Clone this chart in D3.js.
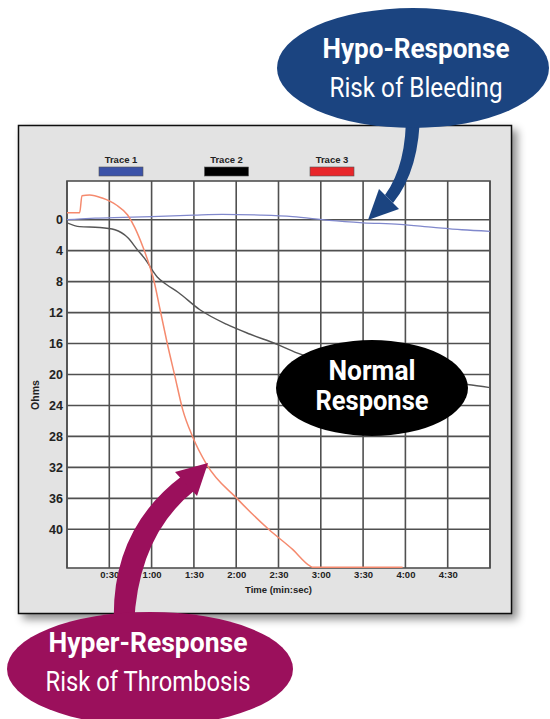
<!DOCTYPE html>
<html>
<head>
<meta charset="utf-8">
<script src="https://cdn.jsdelivr.net/npm/d3@7"></script>
<style>
  html, body { margin: 0; padding: 0; background: #ffffff; }
  svg { display: block; }
</style>
</head>
<body>
<svg id="chart" width="550" height="719"></svg>
<script>
// ---------------- DATA ----------------
const traceNames = ["Trace 1", "Trace 2", "Trace 3"];

// time in seconds, value in Ohms (axis inverted: 0 at top)
const trace1Times  = [0, 10, 20, 40, 60, 90, 110, 137, 160, 186, 210, 236, 260, 280, 300];
const trace1Values = [0, -0.1, -0.2, -0.3, -0.4, -0.6, -0.7, -0.6, -0.4, 0.1, 0.4, 0.6, 1.0, 1.3, 1.5];

const trace2Times  = [0, 9, 23, 34, 43, 50, 57, 59, 64, 70, 79, 94, 113, 130, 149, 163, 190, 220, 250, 284, 300];
const trace2Values = [0.4, 0.9, 1.0, 1.3, 2.3, 3.9, 5.5, 6.1, 7.4, 8.3, 9.4, 11.6, 13.5, 14.8, 16.1, 17.2, 18.6, 19.8, 20.8, 21.3, 21.7];

const trace3Times  = [0, 9, 10.6, 16, 25, 35, 43, 48, 54, 59, 61, 66, 71, 76.5, 82, 89, 99, 121, 143, 160, 172, 174, 238];
const trace3Values = [-0.9, -0.9, -3.1, -3.2, -2.8, -1.9, -0.6, 1.0, 3.6, 6.2, 7.4, 11.6, 15.9, 20.2, 24.5, 28, 31.6, 36.1, 40, 42.6, 44.7, 44.9, 44.9];

const yTicks = [0, 4, 8, 12, 16, 20, 24, 28, 32, 36, 40];
const xTicks = [30, 60, 90, 120, 150, 180, 210, 240, 270];
const xGrid  = [0, 30, 60, 90, 120, 150, 180, 210, 240, 270, 300];
const xTickLabels = ["0:30", "1:00", "1:30", "2:00", "2:30", "3:00", "3:30", "4:00", "4:30"];

const yLabel = "Ohms";
const xLabel = "Time (min:sec)";

const hypoTitle = "Hypo-Response", hypoSub = "Risk of Bleeding";
const hyperTitle = "Hyper-Response", hyperSub = "Risk of Thrombosis";
const normalLines = ["Normal", "Response"];

// ---------------- LAYOUT ----------------
const svg = d3.select("#chart");
const plot = { left: 67, top: 181, right: 490, bottom: 568 };

const x = d3.scaleLinear().domain([0, 300]).range([plot.left, plot.right]);
const y = d3.scaleLinear().domain([-5, 45]).range([plot.top, plot.bottom]);

const defs = svg.append("defs");
const sh = defs.append("filter").attr("id", "shadow")
  .attr("x", "-5%").attr("y", "-5%").attr("width", "115%").attr("height", "115%");
sh.append("feDropShadow").attr("dx", 5).attr("dy", 5).attr("stdDeviation", 4)
  .attr("flood-color", "#000").attr("flood-opacity", 0.45);
const clip = defs.append("clipPath").attr("id", "plotclip");
clip.append("rect").attr("x", plot.left).attr("y", plot.top - 2)
  .attr("width", plot.right - plot.left).attr("height", plot.bottom - plot.top + 4);

// panel
svg.append("rect")
  .attr("x", 18.5).attr("y", 125.5).attr("width", 493).attr("height", 488)
  .attr("fill", "#e3e3e3").attr("stroke", "#111").attr("stroke-width", 1.5)
  .attr("filter", "url(#shadow)");

// plot background
svg.append("rect")
  .attr("x", plot.left).attr("y", plot.top)
  .attr("width", plot.right - plot.left).attr("height", plot.bottom - plot.top)
  .attr("fill", "#ffffff");

// grid
const grid = svg.append("g").attr("stroke", "#505050").attr("stroke-width", 1.6).attr("fill", "none");
grid.selectAll("line.v").data(xGrid).join("line")
  .attr("x1", d => x(d)).attr("x2", d => x(d))
  .attr("y1", plot.top).attr("y2", plot.bottom);
grid.selectAll("line.h").data(yTicks).join("line")
  .attr("x1", plot.left).attr("x2", plot.right)
  .attr("y1", d => y(d)).attr("y2", d => y(d));
grid.append("rect")
  .attr("x", plot.left).attr("y", plot.top)
  .attr("width", plot.right - plot.left).attr("height", plot.bottom - plot.top);

// axes (labels only)
const yAxis = svg.append("g").attr("transform", `translate(${plot.left},0)`)
  .call(d3.axisLeft(y).tickValues(yTicks).tickSize(0).tickPadding(4));
yAxis.select(".domain").remove();
yAxis.selectAll("text")
  .attr("font-family", "Liberation Sans, Arial, sans-serif")
  .attr("font-weight", "bold").attr("font-size", 12.5).attr("fill", "#222");

const xAxis = svg.append("g").attr("transform", `translate(0,${plot.bottom})`)
  .call(d3.axisBottom(x).tickValues(xTicks).tickSize(0).tickPadding(3)
    .tickFormat((d, i) => xTickLabels[i]));
xAxis.select(".domain").remove();
xAxis.selectAll("text")
  .attr("font-family", "Liberation Sans, Arial, sans-serif")
  .attr("font-weight", "bold").attr("font-size", 9.5).attr("fill", "#222");

svg.append("text")
  .attr("x", (plot.left + plot.right) / 2).attr("y", 593)
  .attr("text-anchor", "middle")
  .attr("font-family", "Liberation Sans, Arial, sans-serif")
  .attr("font-weight", "bold").attr("font-size", 9.5).attr("fill", "#222")
  .text(xLabel);

svg.append("text")
  .attr("transform", "translate(39,395) rotate(-90)")
  .attr("text-anchor", "middle")
  .attr("font-family", "Liberation Sans, Arial, sans-serif")
  .attr("font-weight", "bold").attr("font-size", 10.5).attr("fill", "#222")
  .text(yLabel);

// legend
const legendColors = ["#3b52a8", "#000000", "#e8262a"];
const legendX = d3.scalePoint().domain(traceNames).range([121, 332]);
const leg = svg.append("g");
leg.selectAll("text").data(traceNames).join("text")
  .attr("x", d => legendX(d)).attr("y", 163)
  .attr("text-anchor", "middle")
  .attr("font-family", "Liberation Sans, Arial, sans-serif")
  .attr("font-weight", "bold").attr("font-size", 9.5).attr("fill", "#222")
  .text(d => d);
leg.selectAll("rect").data(traceNames).join("rect")
  .attr("x", d => legendX(d) - 22).attr("y", 167)
  .attr("width", 44).attr("height", 9)
  .attr("fill", (d, i) => legendColors[i])
  .attr("stroke", "#555").attr("stroke-width", 0.6);

// traces
const line = d3.line().x(d => x(d[0])).y(d => y(d[1])).curve(d3.curveMonotoneX);
const lines = svg.append("g").attr("clip-path", "url(#plotclip)").attr("fill", "none");
lines.append("path")
  .datum(d3.zip(trace1Times, trace1Values))
  .attr("d", line).attr("stroke", "#8088cc").attr("stroke-width", 1.3);
lines.append("path")
  .datum(d3.zip(trace2Times, trace2Values))
  .attr("d", line).attr("stroke", "#555555").attr("stroke-width", 1.4);
lines.append("path")
  .datum(d3.zip(trace3Times, trace3Values))
  .attr("d", line)
  .attr("stroke", "#f58a6e").attr("stroke-width", 1.5);

// ---------------- CALLOUTS ----------------
const font = "Roboto, 'Liberation Sans', Arial, sans-serif";

// Normal response
svg.append("ellipse").attr("cx", 372).attr("cy", 388).attr("rx", 96).attr("ry", 48).attr("fill", "#000");
svg.append("text").attr("x", 372).attr("y", 380).attr("text-anchor", "middle")
  .attr("font-family", font).attr("font-weight", "bold").attr("font-size", 27).attr("fill", "#fff")
  .attr("textLength", 87).attr("lengthAdjust", "spacingAndGlyphs").text(normalLines[0]);
svg.append("text").attr("x", 372).attr("y", 410).attr("text-anchor", "middle")
  .attr("font-family", font).attr("font-weight", "bold").attr("font-size", 27).attr("fill", "#fff")
  .attr("textLength", 113).attr("lengthAdjust", "spacingAndGlyphs").text(normalLines[1]);

// Hypo-response (blue) arrow + ellipse
const blue = "#1b4480";
svg.append("path").attr("d", "M406,110 L420,110 Q420,170 393,203 L385,195 Q407,165 406,110 Z")
  .attr("fill", blue);
svg.append("path").attr("d", "M368,220 L379,189 L399,209 Z").attr("fill", blue);
svg.append("ellipse").attr("cx", 413).attr("cy", 68).attr("rx", 136).attr("ry", 60).attr("fill", blue);
svg.append("text").attr("x", 416).attr("y", 58).attr("text-anchor", "middle")
  .attr("font-family", font).attr("font-weight", "bold").attr("font-size", 27).attr("fill", "#fff")
  .attr("textLength", 187).attr("lengthAdjust", "spacingAndGlyphs").text(hypoTitle);
svg.append("text").attr("x", 416).attr("y", 97).attr("text-anchor", "middle")
  .attr("font-family", font).attr("font-size", 27).attr("fill", "#fff")
  .attr("textLength", 173).attr("lengthAdjust", "spacingAndGlyphs").text(hypoSub);

// Hyper-response (magenta) arrow + ellipse
const mag = "#9b105c";
svg.append("path").attr("d", "M114,625 Q110,530 182,476 L195,490 Q138,535 134,625 Z")
  .attr("fill", mag);
svg.append("path").attr("d", "M208,463 L175,472 L197,496 Z").attr("fill", mag);
svg.append("ellipse").attr("cx", 150).attr("cy", 669).attr("rx", 143).attr("ry", 57).attr("fill", mag);
svg.append("text").attr("x", 148).attr("y", 652).attr("text-anchor", "middle")
  .attr("font-family", font).attr("font-weight", "bold").attr("font-size", 27).attr("fill", "#fff")
  .attr("textLength", 199).attr("lengthAdjust", "spacingAndGlyphs").text(hyperTitle);
svg.append("text").attr("x", 148).attr("y", 691).attr("text-anchor", "middle")
  .attr("font-family", font).attr("font-size", 27).attr("fill", "#fff")
  .attr("textLength", 205).attr("lengthAdjust", "spacingAndGlyphs").text(hyperSub);
</script>
</body>
</html>
